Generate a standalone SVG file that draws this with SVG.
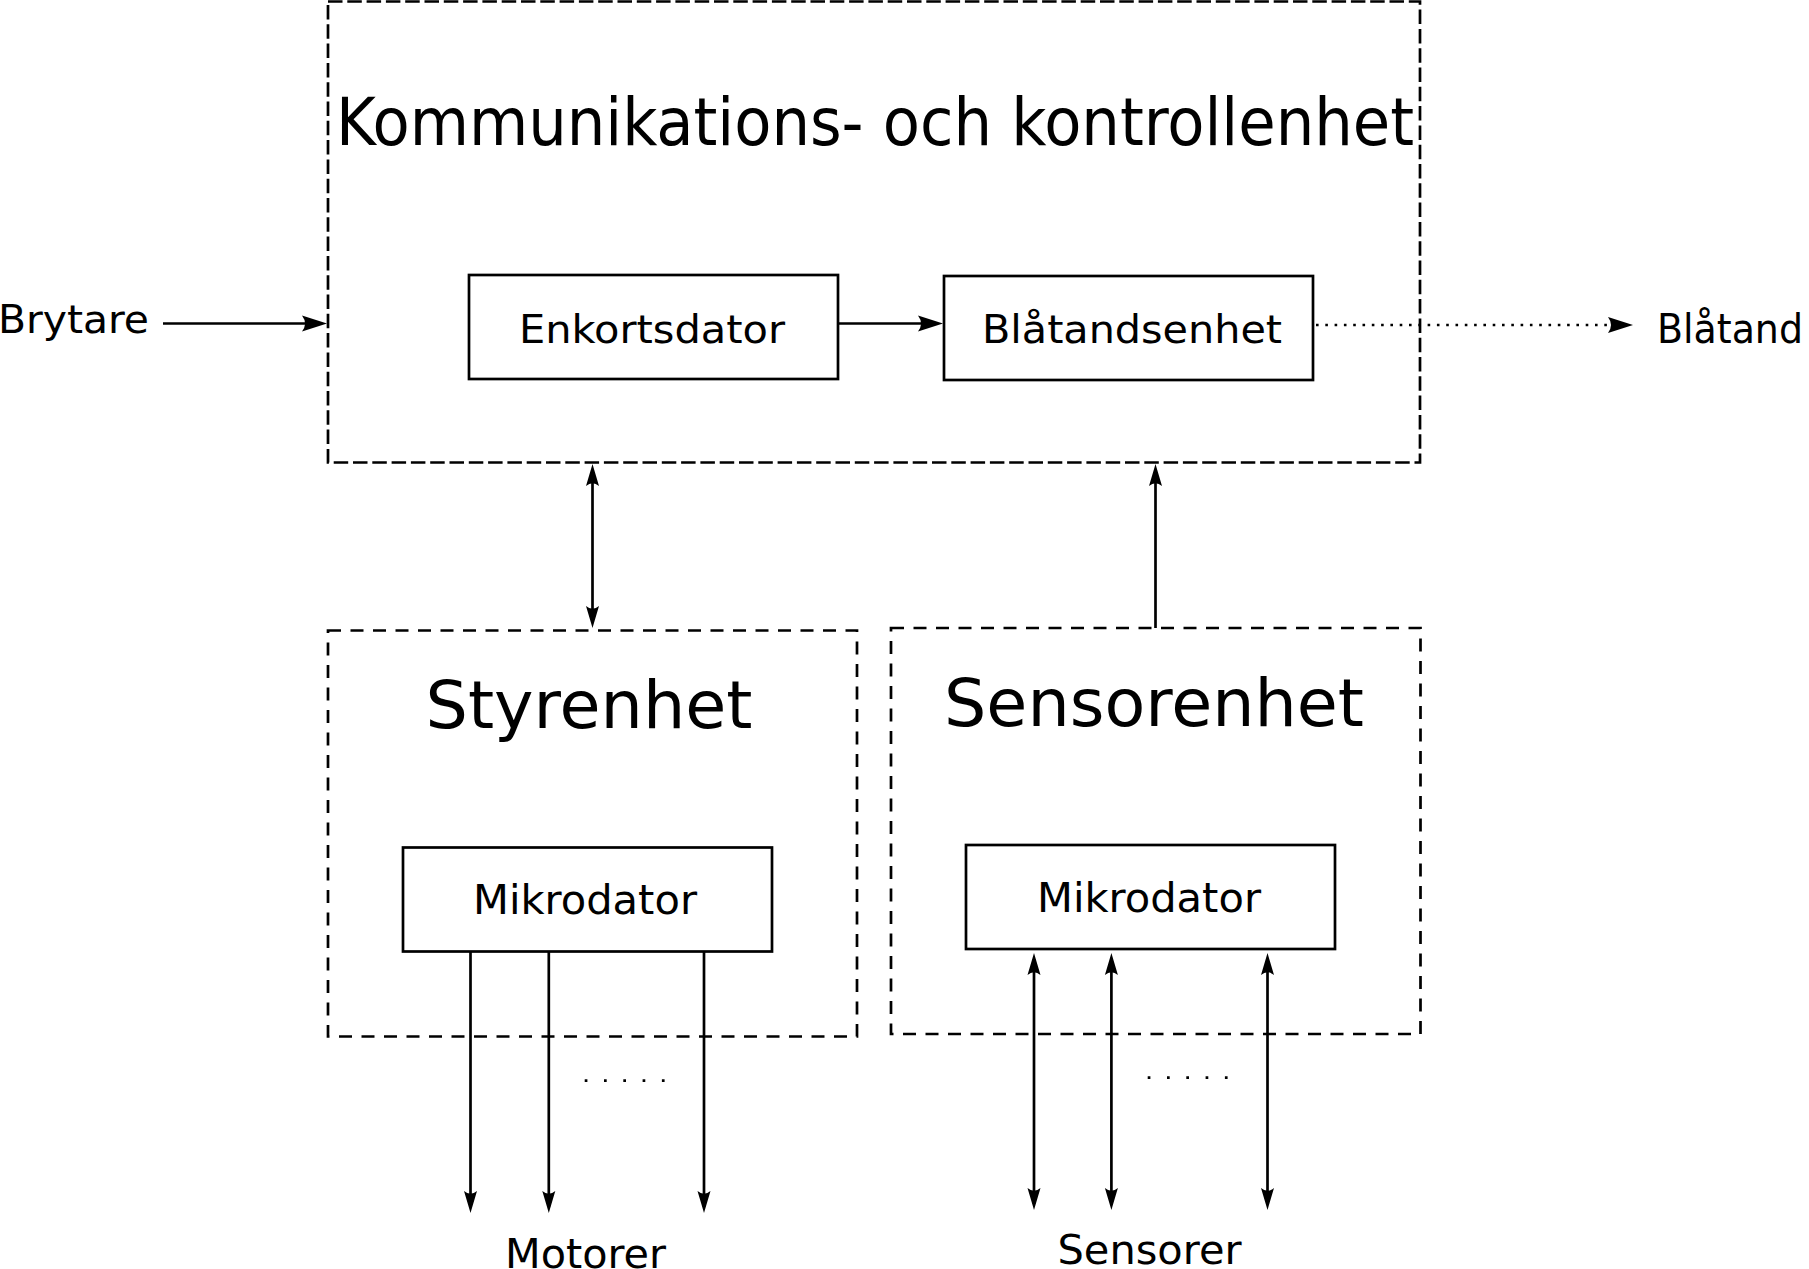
<svg xmlns="http://www.w3.org/2000/svg" width="1809" height="1269" viewBox="0 0 1809 1269">
<style>
.bg{fill:#fff}
.box{fill:#fff;stroke:#000;stroke-width:2.7}
.outer{fill:none;stroke:#000;stroke-width:2.7;stroke-dasharray:14.5 4.8}
.unit{fill:none;stroke:#000;stroke-width:2.7;stroke-dasharray:13 9.5}
.ln{fill:none;stroke:#000;stroke-width:2.7}
.dotted{fill:none;stroke:#000;stroke-width:2.6;stroke-dasharray:2.6 6.7}
.ell{fill:none;stroke:#000;stroke-width:2.7;stroke-dasharray:2.7 16.6}
.cond{font-family:'DejaVu Sans Condensed','DejaVu Sans',sans-serif;font-stretch:condensed;fill:#000}
.reg{font-family:'DejaVu Sans','Liberation Sans',sans-serif;fill:#000}
</style>
<defs>
<marker id="ahBig" markerUnits="userSpaceOnUse" orient="auto-start-reverse" overflow="visible" markerWidth="30" markerHeight="20" refX="0" refY="0">
<path d="M6,0 L-19,-8 Q-13,0 -19,8 Z" fill="#000"/>
</marker>
<marker id="ahSm" markerUnits="userSpaceOnUse" orient="auto-start-reverse" overflow="visible" markerWidth="30" markerHeight="20" refX="0" refY="0">
<path d="M6,0 L-16,-6.5 Q-10.5,0 -16,6.5 Z" fill="#000"/>
</marker>
</defs>
<rect class="bg" x="0" y="0" width="1809" height="1269"/>

<g id="kommunikationsenhet">
<rect class="outer" x="328" y="1.5" width="1092" height="461"/>
<text class="cond" x="875" y="145" font-size="66" text-anchor="middle" textLength="1078" lengthAdjust="spacingAndGlyphs">Kommunikations- och kontrollenhet</text>
</g>

<g id="enkortsdator">
<rect class="box" x="469" y="275" width="369" height="104"/>
<text class="cond" x="652" y="343" font-size="39" text-anchor="middle" textLength="266" lengthAdjust="spacingAndGlyphs">Enkortsdator</text>
</g>

<g id="blatandsenhet">
<rect class="box" x="944" y="276" width="369" height="104"/>
<text class="cond" x="1132" y="343" font-size="39" text-anchor="middle" textLength="300" lengthAdjust="spacingAndGlyphs">Blåtandsenhet</text>
</g>

<g id="brytare">
<text class="cond" x="149" y="333" font-size="39" text-anchor="end" textLength="151" lengthAdjust="spacingAndGlyphs">Brytare</text>
</g>

<g id="blatand">
<text class="cond" x="1657" y="343" font-size="41" textLength="146" lengthAdjust="spacingAndGlyphs">Blåtand</text>
</g>

<g id="styrenhet">
<rect class="unit" x="328" y="630.5" width="529" height="406"/>
<text class="reg" x="589" y="728" font-size="66" text-anchor="middle" textLength="327" lengthAdjust="spacingAndGlyphs">Styrenhet</text>
</g>

<g id="mikrodator-styr">
<rect class="box" x="403" y="847.5" width="369" height="104"/>
<text class="reg" x="585" y="913.5" font-size="41" text-anchor="middle" textLength="224" lengthAdjust="spacingAndGlyphs">Mikrodator</text>
</g>

<g id="sensorenhet">
<rect class="unit" x="891" y="628" width="529.5" height="406"/>
<text class="reg" x="1154" y="726" font-size="66" text-anchor="middle" textLength="420" lengthAdjust="spacingAndGlyphs">Sensorenhet</text>
</g>

<g id="mikrodator-sensor">
<rect class="box" x="966" y="845" width="369" height="104"/>
<text class="reg" x="1149" y="912" font-size="41" text-anchor="middle" textLength="224" lengthAdjust="spacingAndGlyphs">Mikrodator</text>
</g>

<g id="motorer">
<text class="reg" x="585.5" y="1268" font-size="41" text-anchor="middle" textLength="161" lengthAdjust="spacingAndGlyphs">Motorer</text>
</g>

<g id="sensorer">
<text class="reg" x="1149.5" y="1264" font-size="41" text-anchor="middle" textLength="184" lengthAdjust="spacingAndGlyphs">Sensorer</text>
</g>

<g id="connectors">
<line class="ln" x1="163" y1="323.5" x2="321" y2="323.5" marker-end="url(#ahBig)"/>
<line class="ln" x1="838" y1="323.5" x2="937" y2="323.5" marker-end="url(#ahBig)"/>
<line class="dotted" x1="1316" y1="325" x2="1627" y2="325" marker-end="url(#ahBig)"/>
<line class="ln" x1="592.5" y1="470" x2="592.5" y2="622" marker-start="url(#ahSm)" marker-end="url(#ahSm)"/>
<line class="ln" x1="1155.5" y1="628" x2="1155.5" y2="470" marker-end="url(#ahSm)"/>
<line class="ln" x1="470.5" y1="951.5" x2="470.5" y2="1207" marker-end="url(#ahSm)"/>
<line class="ln" x1="548.8" y1="951.5" x2="548.8" y2="1207" marker-end="url(#ahSm)"/>
<line class="ln" x1="704" y1="951.5" x2="704" y2="1207" marker-end="url(#ahSm)"/>
<line class="ln" x1="1034" y1="959" x2="1034" y2="1204" marker-start="url(#ahSm)" marker-end="url(#ahSm)"/>
<line class="ln" x1="1111.4" y1="959" x2="1111.4" y2="1204" marker-start="url(#ahSm)" marker-end="url(#ahSm)"/>
<line class="ln" x1="1267.5" y1="959" x2="1267.5" y2="1204" marker-start="url(#ahSm)" marker-end="url(#ahSm)"/>
<line class="ell" x1="584.7" y1="1080.7" x2="666" y2="1080.7"/>
<line class="ell" x1="1147.7" y1="1077.6" x2="1229" y2="1077.6"/>
</g>
</svg>
